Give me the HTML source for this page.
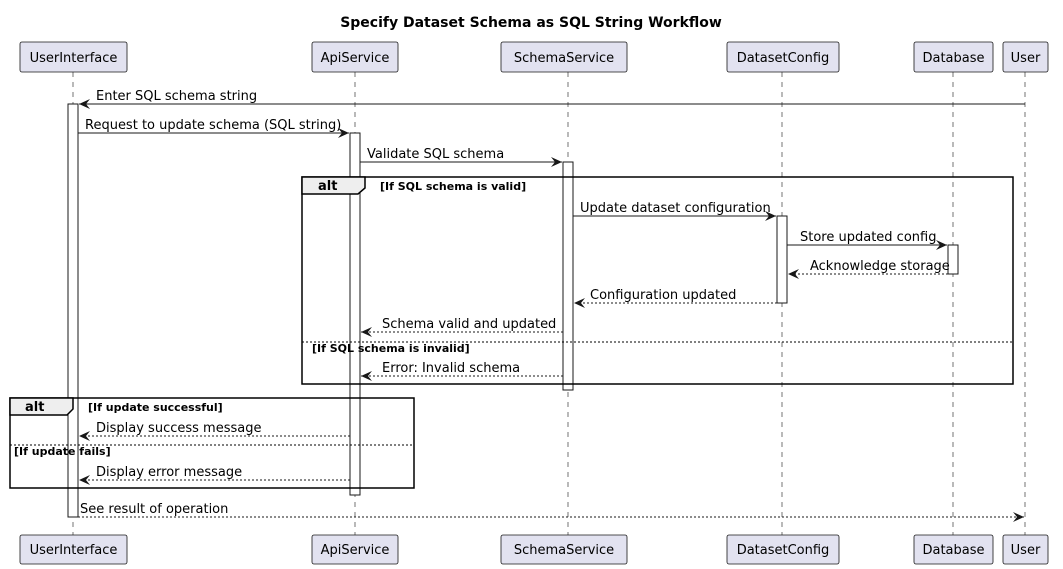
<!DOCTYPE html>
<html><head><meta charset="utf-8"><style>
html,body{margin:0;padding:0;background:#fff;}
svg{display:block;}
text{font-family:"DejaVu Sans","Liberation Sans",sans-serif;font-size:13px;fill:#000;}
.b{font-weight:bold;font-size:11px;}
.pb{fill:#E2E2F0;stroke:#181818;stroke-width:0.8;}
.ll{stroke:#181818;stroke-width:0.6;stroke-dasharray:5,5;}
.act{fill:#fff;stroke:#181818;stroke-width:1;}
.m{stroke:#181818;stroke-width:1;}
.d{stroke:#181818;stroke-width:1;stroke-dasharray:2,2;}
.fr{fill:none;stroke:#000;stroke-width:1.5;}
.tab{fill:#EEEEEE;stroke:#000;stroke-width:1.5;}
.sep{stroke:#000;stroke-width:1;stroke-dasharray:2,2;}
</style></head><body>
<svg width="1063" height="569" viewBox="0 0 1063 569" xmlns="http://www.w3.org/2000/svg">
<defs>
<marker id="ar" markerWidth="12" markerHeight="10" refX="11" refY="5" orient="auto" markerUnits="userSpaceOnUse">
<path d="M0,0 L11,5 L0,10 L4,5 Z" fill="#181818"/>
</marker>
<marker id="ar2" markerWidth="12" markerHeight="10" refX="11" refY="5" orient="auto" markerUnits="userSpaceOnUse">
<path d="M0,0 L11,5 L0,10 L4,5 Z" fill="#181818"/>
</marker>
</defs>
<text x="531" y="27" text-anchor="middle" style="font-weight:bold;font-size:14px">Specify Dataset Schema as SQL String Workflow</text>

<line class="ll" x1="73" y1="72" x2="73" y2="535"/>
<line class="ll" x1="355" y1="72" x2="355" y2="535"/>
<line class="ll" x1="568" y1="72" x2="568" y2="535"/>
<line class="ll" x1="782" y1="72" x2="782" y2="535"/>
<line class="ll" x1="953" y1="72" x2="953" y2="535"/>
<line class="ll" x1="1025" y1="72" x2="1025" y2="535"/>

<g>
<rect class="pb" x="20" y="42" width="107" height="30" rx="2"/><text x="73.5" y="62" text-anchor="middle">UserInterface</text>
<rect class="pb" x="312" y="42" width="86" height="30" rx="2"/><text x="355" y="62" text-anchor="middle">ApiService</text>
<rect class="pb" x="501" y="42" width="126" height="30" rx="2"/><text x="564" y="62" text-anchor="middle">SchemaService</text>
<rect class="pb" x="727" y="42" width="112" height="30" rx="2"/><text x="783" y="62" text-anchor="middle">DatasetConfig</text>
<rect class="pb" x="914" y="42" width="79" height="30" rx="2"/><text x="953.5" y="62" text-anchor="middle">Database</text>
<rect class="pb" x="1003" y="42" width="45" height="30" rx="2"/><text x="1025.5" y="62" text-anchor="middle">User</text>
</g>
<g>
<rect class="pb" x="20" y="535" width="107" height="29" rx="2"/><text x="73.5" y="554" text-anchor="middle">UserInterface</text>
<rect class="pb" x="312" y="535" width="86" height="29" rx="2"/><text x="355" y="554" text-anchor="middle">ApiService</text>
<rect class="pb" x="501" y="535" width="126" height="29" rx="2"/><text x="564" y="554" text-anchor="middle">SchemaService</text>
<rect class="pb" x="727" y="535" width="112" height="29" rx="2"/><text x="783" y="554" text-anchor="middle">DatasetConfig</text>
<rect class="pb" x="914" y="535" width="79" height="29" rx="2"/><text x="953.5" y="554" text-anchor="middle">Database</text>
<rect class="pb" x="1003" y="535" width="45" height="29" rx="2"/><text x="1025.5" y="554" text-anchor="middle">User</text>
</g>

<rect class="act" x="68" y="104" width="10" height="413"/>
<rect class="act" x="350" y="133" width="10" height="362"/>
<rect class="act" x="563" y="162" width="10" height="228"/>
<rect class="act" x="777" y="216" width="10" height="87"/>
<rect class="act" x="948" y="245" width="10" height="29"/>

<rect class="fr" x="302" y="177" width="711" height="207"/>
<path class="tab" d="M302,177 L365,177 L365,188 L358,194 L302,194 Z"/>
<text class="b" x="318" y="190" style="font-size:13px">alt</text>
<text class="b" x="380" y="190">[If SQL schema is valid]</text>
<line class="sep" x1="302" y1="342" x2="1013" y2="342"/>
<text class="b" x="312" y="352">[If SQL schema is invalid]</text>

<rect class="fr" x="10" y="398" width="404" height="90"/>
<path class="tab" d="M10,398 L73,398 L73,409 L67,415 L10,415 Z"/>
<text class="b" x="25" y="411" style="font-size:13px">alt</text>
<text class="b" x="88" y="411">[If update successful]</text>
<line class="sep" x1="10" y1="445" x2="414" y2="445"/>
<text class="b" x="14" y="455">[If update fails]</text>

<line class="m" x1="1025" y1="104" x2="79" y2="104" marker-end="url(#ar)"/>
<text x="96" y="100">Enter SQL schema string</text>

<line class="m" x1="78" y1="133" x2="349" y2="133" marker-end="url(#ar)"/>
<text x="85" y="129">Request to update schema (SQL string)</text>

<line class="m" x1="360" y1="162" x2="562" y2="162" marker-end="url(#ar)"/>
<text x="367" y="158">Validate SQL schema</text>

<line class="m" x1="573" y1="216" x2="776" y2="216" marker-end="url(#ar)"/>
<text x="580" y="212">Update dataset configuration</text>

<line class="m" x1="787" y1="245" x2="947" y2="245" marker-end="url(#ar)"/>
<text x="800" y="241">Store updated config</text>

<line class="d" x1="948" y1="274" x2="788" y2="274" marker-end="url(#ar2)"/>
<text x="810" y="270">Acknowledge storage</text>

<line class="d" x1="777" y1="303" x2="574" y2="303" marker-end="url(#ar2)"/>
<text x="590" y="299">Configuration updated</text>

<line class="d" x1="563" y1="332" x2="361" y2="332" marker-end="url(#ar2)"/>
<text x="382" y="328">Schema valid and updated</text>

<line class="d" x1="563" y1="376" x2="361" y2="376" marker-end="url(#ar2)"/>
<text x="382" y="372">Error: Invalid schema</text>

<line class="d" x1="350" y1="436" x2="79" y2="436" marker-end="url(#ar2)"/>
<text x="96" y="432">Display success message</text>

<line class="d" x1="350" y1="480" x2="79" y2="480" marker-end="url(#ar2)"/>
<text x="96" y="476">Display error message</text>

<line class="d" x1="78" y1="517" x2="1024" y2="517" marker-end="url(#ar2)"/>
<text x="80" y="513">See result of operation</text>
</svg>
</body></html>
